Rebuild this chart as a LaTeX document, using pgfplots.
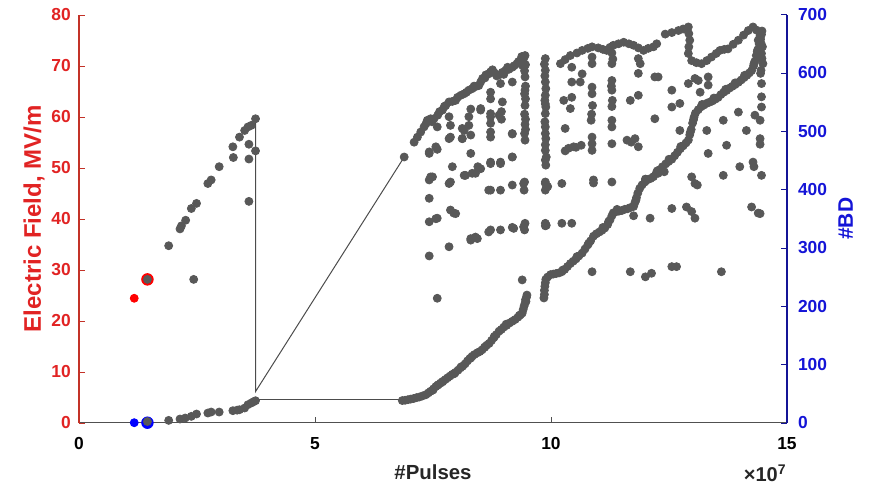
\documentclass[border=0pt]{standalone}
\usepackage{fontspec}
\setmainfont{Liberation Sans}
\usepackage{pgfplots}
\usepackage{pgfplotstable}
\pgfplotsset{compat=1.18}
\definecolor{ptgray}{RGB}{88,88,88}
\definecolor{fieldred}{RGB}{225,35,35}
\definecolor{redaxis}{RGB}{195,50,40}
\definecolor{bdblue}{RGB}{20,20,215}
\definecolor{blueaxis}{RGB}{20,20,150}
\definecolor{xaxisgray}{RGB}{80,80,80}

% Electric field (MV/m) vs pulses (x 1e7)
\pgfplotstableread{
x y
1.90 34.7
2.14 38.0
2.17 38.6
2.26 39.7
2.38 42.0
2.43 28.1
2.49 43.0
2.73 46.9
2.80 47.6
2.97 50.2
3.26 54.1
3.27 52.0
3.40 56.0
3.51 57.3
3.58 58.0
3.60 54.6
3.60 51.7
3.60 43.4
3.65 58.3
3.74 59.6
3.74 53.3
6.89 52.1
7.10 55.0
7.17 56.0
7.24 57.0
7.31 58.0
7.35 58.6
7.38 59.3
7.45 59.6
7.48 59.0
7.52 59.6
7.60 60.3
7.64 61.0
7.70 61.3
7.74 62.0
7.77 62.2
7.84 62.9
7.91 63.0
7.98 63.2
8.02 63.8
8.09 64.2
8.16 64.5
8.21 64.8
8.26 65.2
8.33 65.5
8.37 66.0
8.40 65.9
8.47 66.1
8.51 66.8
8.55 67.5
8.60 67.6
8.62 68.2
8.68 68.4
8.72 68.8
8.76 69.2
8.80 68.6
8.85 68.0
8.90 68.2
8.97 68.7
9.00 68.3
9.04 69.1
9.08 69.7
9.11 69.3
9.18 69.7
9.22 70.0
9.28 70.4
9.31 70.8
9.35 71.0
9.38 71.8
9.40 70.0
9.42 71.4
7.59 58.0
7.42 52.8
7.59 53.6
7.84 60.0
7.87 58.3
7.84 55.7
8.16 57.3
8.26 60.0
8.30 56.4
8.12 55.7
8.30 52.8
8.51 61.3
8.72 64.8
8.72 63.5
8.72 60.6
8.72 58.7
8.72 57.0
8.97 62.9
8.95 61.0
8.95 59.5
9.18 66.8
9.18 56.6
9.18 52.1
8.72 51.1
8.93 50.8
7.91 50.2
8.45 50.2
8.30 61.5
8.93 66.5
8.51 61.6
8.26 58.3
8.12 57.7
7.56 54.1
7.42 53.1
7.87 56.0
8.12 55.7
8.72 60.0
8.90 60.3
8.72 56.0
9.18 56.7
8.16 48.5
8.33 48.9
8.51 49.8
8.72 50.8
8.93 51.1
9.18 52.1
7.45 48.2
7.42 47.6
7.49 48.2
7.87 47.2
7.84 46.9
8.19 48.5
8.40 48.9
8.72 45.6
8.93 45.6
9.18 46.6
8.68 45.6
7.42 44.0
7.87 41.7
7.94 41.1
7.98 41.0
7.42 39.4
7.56 40.0
7.59 40.1
8.72 37.8
8.93 37.8
9.18 38.3
8.30 36.1
8.40 36.4
8.30 35.8
8.44 36.1
8.68 37.4
9.21 38.1
7.84 34.5
7.42 32.7
7.59 24.4
9.39 28.0
9.45 72.0
9.46 70.2
9.44 69.0
9.45 67.8
9.46 66.0
9.45 65.2
9.44 64.5
9.46 63.5
9.45 62.2
9.44 60.5
9.46 59.5
9.45 58.5
9.46 57.5
9.44 56.7
9.45 55.4
9.44 47.2
9.43 45.6
9.42 46.9
9.45 39.1
9.42 38.4
9.44 37.8
9.88 71.4
9.86 70.3
9.88 69.1
9.87 68.0
9.88 66.8
9.89 65.5
9.88 64.2
9.87 63.2
9.88 62.5
9.89 61.9
9.88 60.6
9.87 59.0
9.88 58.0
9.88 56.7
9.89 55.7
9.88 54.5
9.88 53.4
9.90 52.1
9.88 51.5
9.89 50.5
9.88 47.2
9.88 45.6
9.88 46.9
9.93 46.3
9.88 39.1
9.88 38.6
9.90 38.7
10.20 70.4
10.30 71.2
10.41 72.0
10.55 72.5
10.66 73.0
10.78 73.4
10.87 73.7
10.44 69.7
10.44 66.8
10.62 66.8
10.66 68.4
10.27 63.2
10.44 63.8
10.41 61.6
10.30 57.7
10.37 53.8
10.30 53.3
10.48 54.1
10.53 54.0
10.64 54.4
10.87 53.4
10.23 46.9
10.23 39.1
10.44 39.1
10.87 29.6
10.90 47.6
10.90 47.0
10.87 71.7
10.87 70.4
10.87 65.8
10.87 64.5
10.88 62.2
10.85 59.3
10.87 56.0
10.87 54.7
10.86 60.5
11.00 73.5
11.10 73.2
11.18 73.0
11.25 73.6
11.32 74.0
11.43 74.3
11.54 74.6
11.65 74.3
11.75 74.0
11.85 73.5
11.96 73.0
12.06 73.4
12.17 73.7
12.24 74.3
11.29 72.5
11.31 71.3
11.29 70.4
11.29 67.1
11.28 66.0
11.29 65.2
11.30 63.2
11.29 62.0
11.29 59.3
11.29 58.0
11.29 54.7
11.29 47.2
11.68 63.2
11.85 64.2
11.78 55.7
11.85 54.1
11.70 55.0
11.89 70.4
11.85 71.4
11.85 68.5
12.20 67.8
12.20 59.6
11.61 55.4
11.68 29.6
12.00 28.6
12.13 29.3
12.10 40.1
12.27 48.9
12.27 67.8
12.42 76.2
12.56 76.5
12.70 76.9
12.80 77.2
12.91 77.6
12.92 76.3
12.94 75.0
12.92 73.7
12.91 72.4
12.98 71.0
13.08 70.6
13.19 70.4
13.30 71.0
13.40 71.7
13.50 72.4
13.58 73.0
13.67 73.2
13.75 73.3
13.86 74.2
13.97 75.0
14.08 76.0
14.18 76.9
14.28 77.6
14.35 77.0
14.39 75.0
14.46 72.4
14.49 70.4
14.43 76.0
14.45 74.4
14.44 68.5
14.45 69.1
14.46 66.5
14.46 63.9
14.46 61.9
14.43 59.3
14.43 55.7
14.43 54.6
14.46 48.5
14.43 41.0
14.39 41.1
12.56 65.2
12.91 66.5
13.12 67.1
13.33 67.8
13.33 66.2
13.16 64.8
13.05 67.5
12.56 61.9
12.73 62.6
13.65 59.3
13.97 60.9
14.32 60.3
12.73 57.3
13.30 57.3
14.14 57.3
13.72 54.4
13.33 52.8
14.00 50.2
14.28 51.1
14.30 50.2
12.40 49.2
12.98 48.2
13.05 46.9
13.10 46.6
13.65 48.5
12.56 42.0
12.87 42.3
12.98 41.4
13.05 40.1
14.25 42.3
12.56 30.6
12.66 30.6
13.61 29.6
}\fielddata

% number of breakdowns
\pgfplotstableread{
x y
1.90 4
2.14 6.3
2.25 8
2.38 10.9
2.49 14.9
2.73 16.6
2.80 18.3
2.97 18.3
3.26 20.6
3.35 21.5
3.40 22.3
3.51 25.2
3.58 30.9
3.65 33.8
3.70 36
3.74 37.7
6.85 38
6.91 38.5
6.97 39.5
7.03 40.5
7.09 41.5
7.15 43
7.21 44
7.28 46
7.35 48
7.40 51
7.45 54
7.50 56
7.51 58
7.56 62
7.60 64.5
7.61 65
7.66 68
7.70 70
7.71 71
7.76 74
7.81 77
7.86 80
7.91 83
7.95 84
7.97 86
8.03 90
8.08 94
8.10 96
8.13 97
8.18 101
8.23 106
8.28 110
8.30 111
8.33 114
8.38 117
8.44 120
8.49 122
8.54 125
8.59 129
8.60 130
8.64 133
8.69 136
8.74 141
8.79 146
8.80 148
8.84 151
8.90 157
8.95 160
9.00 164
9.05 169
9.06 167
9.12 171
9.18 174
9.24 177
9.30 181
9.33 184
9.35 185
9.39 188
9.41 194
9.43 200
9.45 205
9.46 211
9.47 208
9.48 215
9.49 219
9.85 214
9.86 220
9.86 227
9.87 234
9.88 240
9.89 246
9.93 250
9.99 254
10.05 255
10.11 256
10.17 257
10.23 259
10.25 262
10.29 263
10.35 268
10.41 273
10.47 277
10.53 281
10.55 285
10.59 286
10.66 291
10.72 298
10.78 305
10.80 308
10.84 312
10.90 320
10.96 324
11.02 327
11.08 330
11.10 335
11.14 334
11.20 340
11.22 345
11.25 348
11.29 355
11.32 360
11.38 362
11.40 366
11.44 363
11.50 364
11.56 366
11.62 367
11.68 369
11.75 371
11.75 355
11.78 378
11.80 382
11.81 386
11.84 394
11.88 402
11.93 408
11.99 413
12.00 418
12.05 417
12.11 419
12.17 422
12.23 428
12.25 432
12.30 434
12.36 439
12.43 444
12.49 448
12.50 452
12.56 452
12.62 458
12.68 464
12.74 470
12.75 474
12.80 475
12.86 480
12.91 485
12.94 494
12.95 498
12.97 503
13.00 514
13.02 520
13.03 524
13.06 531
13.12 537
13.18 542
13.20 546
13.24 545
13.30 548
13.36 550
13.42 552
13.45 557
13.48 555
13.54 558
13.60 563
13.66 567
13.70 572
13.72 570
13.78 574
13.84 577
13.90 580
13.90 583
13.97 584
14.03 588
14.09 592
14.10 596
14.15 596
14.20 600
14.25 604
14.29 612
14.30 616
14.32 620
14.35 630
14.37 637
14.38 640
14.41 650
14.43 662
14.44 658
14.46 666
14.47 672
14.48 645
14.47 625
}\bddata

\begin{document}
\begin{tikzpicture}[font=\bfseries]
\begin{axis}[
  at={(0,0)}, anchor=south west,
  scale only axis, width=354pt, height=204pt,
  xmin=0, xmax=15, ymin=0, ymax=80,
  clip=false,
  axis x line*=bottom, axis y line*=left,
  x axis line style={-, draw=xaxisgray, line width=0.6pt},
  y axis line style={-, draw=redaxis, line width=0.6pt},
  xtick={0,5,10,15}, ytick={0,10,...,80},
  scaled x ticks=false,
  tick align=inside, major tick length=3pt,
  every x tick/.append style={draw=xaxisgray},
  every y tick/.append style={draw=redaxis},
  /pgf/number format/assume math mode=true,
  xticklabel style={font=\bfseries\fontsize{8.7}{10}\selectfont, anchor=base, yshift=-13.5pt, text=black},
  yticklabel style={font=\bfseries\fontsize{8.7}{10}\selectfont, text=fieldred, xshift=-0.6pt},
  xlabel={\#Pulses},
  every axis x label/.style={at={(axis description cs:0.5,-0.1397)}, anchor=base, font=\bfseries\fontsize{10.2}{12}\selectfont, text=black!85},
  ylabel={Electric Field, MV/m},
  every axis y label/.style={at={(axis description cs:-0.0537,0.5)}, rotate=90, anchor=base, font=\bfseries\fontsize{12}{14}\selectfont, text=fieldred},
]
\addplot[only marks, mark=*, mark size=2pt, mark options={fill=ptgray, draw=ptgray}] table[x=x, y=y] {\fielddata};
\addplot[only marks, mark=*, mark size=2pt, mark options={fill=red, draw=red}] coordinates {(1.17,24.4)};
\addplot[only marks, mark=*, mark size=2.9pt, mark options={fill=red, draw=red}] coordinates {(1.45,28.1)};
\addplot[only marks, mark=*, mark size=2pt, mark options={fill=ptgray, draw=ptgray}] coordinates {(1.45,28.1)};
\addplot[line width=0.5pt, draw=black!70, mark=none] coordinates {(3.74,59.6) (3.74,6.1) (6.89,52.1)};
\end{axis}
\begin{axis}[
  at={(0,0)}, anchor=south west,
  scale only axis, width=354pt, height=204pt,
  xmin=0, xmax=15, ymin=0, ymax=700,
  clip=false,
  axis x line=none, axis y line*=right,
  y axis line style={-, draw=blueaxis, line width=0.6pt},
  ytick={0,100,...,700},
  tick align=inside, major tick length=3pt,
  every y tick/.append style={draw=blueaxis},
  /pgf/number format/assume math mode=true,
  yticklabel style={font=\bfseries\fontsize{8.7}{10}\selectfont, text=bdblue, xshift=2pt},
  ylabel={\#BD},
  every axis y label/.style={at={(axis description cs:1.0932,0.5)}, rotate=90, anchor=base, font=\bfseries\fontsize{10.5}{12}\selectfont, text=bdblue},
]
\addplot[only marks, mark=*, mark size=2pt, mark options={fill=ptgray, draw=ptgray}] table[x=x, y=y] {\bddata};
\addplot[line width=0.5pt, draw=black!70, mark=none] coordinates {(3.74,39.4) (6.85,39.4)};
\addplot[only marks, mark=*, mark size=2pt, mark options={fill=blue, draw=blue}] coordinates {(1.17,0)};
\addplot[only marks, mark=*, mark size=2.9pt, mark options={fill=blue, draw=blue}] coordinates {(1.45,0)};
\addplot[only marks, mark=*, mark size=2pt, mark options={fill=ptgray, draw=ptgray}] coordinates {(1.45,2)};
\end{axis}
\node[anchor=base east, font=\bfseries\fontsize{10}{12}\selectfont, text=black!85, inner sep=0pt] at (354pt,-29.4pt) {×10\textsuperscript{7}};
\pgfresetboundingbox
\path[use as bounding box] (-39.5pt,-32.5pt) rectangle (395pt,211.35pt);
\end{tikzpicture}
\end{document}
